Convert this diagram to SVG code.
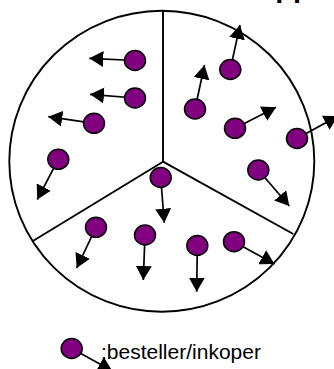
<svg xmlns="http://www.w3.org/2000/svg" width="334" height="369" viewBox="0 0 334 369">
<style>
.node{fill:#800080;stroke:#000;stroke-width:1.5}
.conn{stroke:#000;stroke-width:1.7;fill:none;marker-end:url(#ah)}
.frame{stroke:#000;stroke-width:1.9;fill:none}
.lbl{font-family:"Liberation Sans",Arial,sans-serif;fill:#000}
</style>
<defs>
<marker id="ah" viewBox="0 0 14 16" refX="14" refY="8" markerWidth="14" markerHeight="16" markerUnits="userSpaceOnUse" orient="auto">
<path d="M0,0 L14,8 L0,16 z" fill="#000"/>
</marker>
</defs>
<rect width="334" height="369" fill="#fff"/>
<text class="lbl" x="275.3" y="-2.7" font-size="29" font-weight="bold">pp</text>
<g id="frame">
<ellipse class="frame" cx="161.8" cy="161.2" rx="152.5" ry="150.5"/>
<line class="frame" x1="163" y1="10.7" x2="163" y2="161.7"/>
<line class="frame" x1="163" y1="161.7" x2="33.3" y2="240.7"/>
<line class="frame" x1="163" y1="161.7" x2="293.3" y2="234"/>
</g>
<g id="connectors">
<line class="conn" x1="135" y1="60.5" x2="89.3" y2="58.3"/>
<line class="conn" x1="135" y1="98" x2="90" y2="94.3"/>
<line class="conn" x1="94" y1="123.3" x2="48.3" y2="116.7"/>
<line class="conn" x1="58.3" y1="159.3" x2="37.3" y2="199.5"/>
<line class="conn" x1="160.7" y1="177.5" x2="164.3" y2="222.7"/>
<line class="conn" x1="145" y1="235" x2="143.3" y2="280"/>
<line class="conn" x1="197.3" y1="245.5" x2="196.7" y2="291.7"/>
<line class="conn" x1="96" y1="227.3" x2="76.7" y2="268"/>
<line class="conn" x1="234" y1="241.7" x2="274.5" y2="264"/>
<line class="conn" x1="258.3" y1="170" x2="289.3" y2="206"/>
<line class="conn" x1="297" y1="138.5" x2="338" y2="116"/>
<line class="conn" x1="235" y1="128.3" x2="276" y2="107.3"/>
<line class="conn" x1="195" y1="109" x2="204.5" y2="65"/>
<line class="conn" x1="230.3" y1="69.5" x2="240" y2="25"/>
<line class="conn" x1="71.7" y1="348.5" x2="112.2" y2="370.8"/>
</g>
<g id="node-a"><ellipse class="node" cx="135" cy="60.5" rx="10.5" ry="10"/></g>
<g id="node-b"><ellipse class="node" cx="135" cy="98" rx="10.5" ry="10"/></g>
<g id="node-c"><ellipse class="node" cx="94" cy="123.3" rx="10.5" ry="10"/></g>
<g id="node-d"><ellipse class="node" cx="58.3" cy="159.3" rx="10.5" ry="10"/></g>
<g id="node-e"><ellipse class="node" cx="160.7" cy="177.5" rx="10.5" ry="10"/></g>
<g id="node-f"><ellipse class="node" cx="145" cy="235" rx="10.5" ry="10"/></g>
<g id="node-g"><ellipse class="node" cx="197.3" cy="245.5" rx="10.5" ry="10"/></g>
<g id="node-h"><ellipse class="node" cx="96" cy="227.3" rx="10.5" ry="10"/></g>
<g id="node-i"><ellipse class="node" cx="234" cy="241.7" rx="10.5" ry="10"/></g>
<g id="node-j"><ellipse class="node" cx="258.3" cy="170" rx="10.5" ry="10"/></g>
<g id="node-k"><ellipse class="node" cx="297" cy="138.5" rx="10.5" ry="10"/></g>
<g id="node-l"><ellipse class="node" cx="235" cy="128.3" rx="10.5" ry="10"/></g>
<g id="node-m"><ellipse class="node" cx="195" cy="109" rx="10.5" ry="10"/></g>
<g id="node-n"><ellipse class="node" cx="230.3" cy="69.5" rx="10.5" ry="10"/></g>
<g id="legend">
<ellipse class="node" cx="71.7" cy="348.5" rx="10.5" ry="10"/>
<text class="lbl" x="101" y="358.5" font-size="21">:besteller/inkoper</text>
</g>
</svg>
